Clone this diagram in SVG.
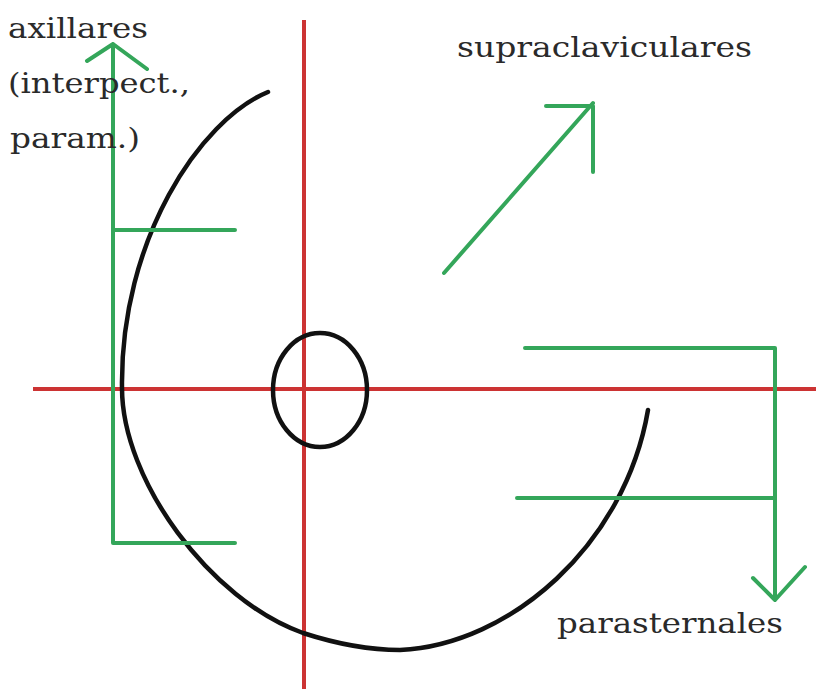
<svg xmlns="http://www.w3.org/2000/svg" width="816" height="689" viewBox="0 0 816 689">
<style>
.red{stroke:#cc3333;stroke-width:4;fill:none}
.blk{stroke:#111;stroke-width:4.5;fill:none;stroke-linecap:round}
.grn{stroke:#34a65a;stroke-width:4;fill:none;stroke-linecap:round;stroke-linejoin:round}
.lbl{font-family:"DejaVu Serif","Liberation Serif",serif;font-size:28px;fill:#2a2a2a}
</style>
<rect width="816" height="689" fill="#fff"/>
<g id="axes">
<line class="red" x1="304" y1="20" x2="304" y2="689"/>
<line class="red" x1="33" y1="389" x2="816" y2="389"/>
</g>
<g id="outline">
<path class="blk" d="M268,92 C200,120 120,240 122,388 C122,480 210,600 303,633 C340,645 370,650 400,650 C510,645 625,545 648,410"/>
<ellipse class="blk" cx="320" cy="390" rx="47" ry="57"/>
</g>
<g id="connectors">
<path class="grn" d="M113,44 V543 H235 M113,230 H235 M87,61 L113,44 L147,69"/>
<path class="grn" d="M444,273 L593,103 M546,106 H593 V172"/>
<path class="grn" d="M525,348 H775 V600 M517,498 H775 M753,578 L775,600 L805,567"/>
</g>
<g id="labels">
<text class="lbl" x="8" y="38" textLength="140" lengthAdjust="spacingAndGlyphs">axillares</text>
<text class="lbl" x="8" y="93" textLength="182" lengthAdjust="spacingAndGlyphs">(interpect.,</text>
<text class="lbl" x="10" y="148" textLength="130" lengthAdjust="spacingAndGlyphs">param.)</text>
<text class="lbl" x="457" y="57" textLength="295" lengthAdjust="spacingAndGlyphs">supraclaviculares</text>
<text class="lbl" x="557" y="633" textLength="226" lengthAdjust="spacingAndGlyphs">parasternales</text>
</g>
</svg>
